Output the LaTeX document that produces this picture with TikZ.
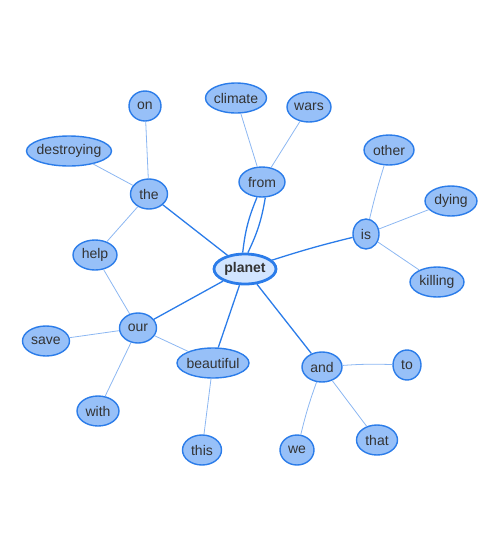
\documentclass[tikz,border=0pt]{standalone}
\usepackage{fontspec}
\setmainfont{Liberation Sans}
\usetikzlibrary{shapes.geometric}
\definecolor{WordFill}{HTML}{97C0F8}
\definecolor{WordLine}{HTML}{2B7CE9}
\definecolor{HubFill}{HTML}{D2E5FF}
\definecolor{LinkThin}{HTML}{8CB7F2}
\definecolor{InkGray}{HTML}{333333}

\begin{document}
\begin{tikzpicture}[x=1pt, y=-1pt,
  word/.style={ellipse, draw=WordLine, line width=1.4pt, fill=WordFill, text=InkGray,
    font=\fontsize{14}{16}\selectfont, inner xsep=-4pt, inner ysep=0pt, minimum height=30pt, minimum width=#1},
  word/.default=40pt,
  hub/.style={word=62pt, fill=HubFill, line width=2.8pt, minimum height=30pt, font=\fontsize{14}{16}\selectfont\bfseries},
  weak/.style={draw=LinkThin, line width=0.8pt},
  strong/.style={draw=WordLine, line width=1.3pt}
]
\useasboundingbox (0,0) rectangle (500,550);
% words
\node[hub] (planet) at (245,269) {planet};
\node[word=46pt] (from) at (262,182) {from};
\node[word=61pt] (climate) at (236,98) {climate};
\node[word=44pt] (wars) at (309,107) {wars};
\node[word=32pt] (on) at (145,106) {on};
\node[word=85pt] (destroying) at (69,151) {destroying};
\node[word=37pt] (the) at (149,194) {the};
\node[word=44pt] (help) at (95,255) {help};
\node[word=37pt] (our) at (138,328) {our};
\node[word=47pt] (save) at (46,341) {save};
\node[word=42pt] (with) at (98,411) {with};
\node[word=72pt] (beautiful) at (213,363) {beautiful};
\node[word=39pt] (this) at (202,450) {this};
\node[word=40pt] (and) at (322,367) {and};
\node[word=28pt] (to) at (407,365) {to};
\node[word=34pt] (we) at (297,450) {we};
\node[word=41pt] (that) at (377,440) {that};
\node[word=26pt] (is) at (366,234) {is};
\node[word=50pt] (other) at (389,150) {other};
\node[word=52pt] (dying) at (451,201) {dying};
\node[word=54pt] (killing) at (437,282) {killing};
% links
\draw[strong] (planet.98) to[bend left=8] (from.252);
\draw[strong] (planet.80) to[bend right=8] (from.282);
\draw[weak] (from) -- (climate);
\draw[weak] (from) -- (wars);
\draw[strong] (planet) -- (the);
\draw[weak] (the) -- (on);
\draw[weak] (the) -- (destroying);
\draw[weak] (the) -- (help);
\draw[weak] (help) -- (our);
\draw[strong] (planet) -- (our);
\draw[weak] (our) -- (save);
\draw[weak] (our) -- (with);
\draw[weak] (our) -- (beautiful);
\draw[strong] (planet) -- (beautiful);
\draw[weak] (beautiful) -- (this);
\draw[strong] (planet) -- (and);
\draw[weak] (and) to[bend left=3] (to);
\draw[weak] (and) to[bend right=3] (we);
\draw[weak] (and) -- (that);
\draw[strong] (planet) to[bend left=2] (is);
\draw[weak] (is) to[bend left=2] (other);
\draw[weak] (is) -- (dying);
\draw[weak] (is) -- (killing);
\end{tikzpicture}
\end{document}
